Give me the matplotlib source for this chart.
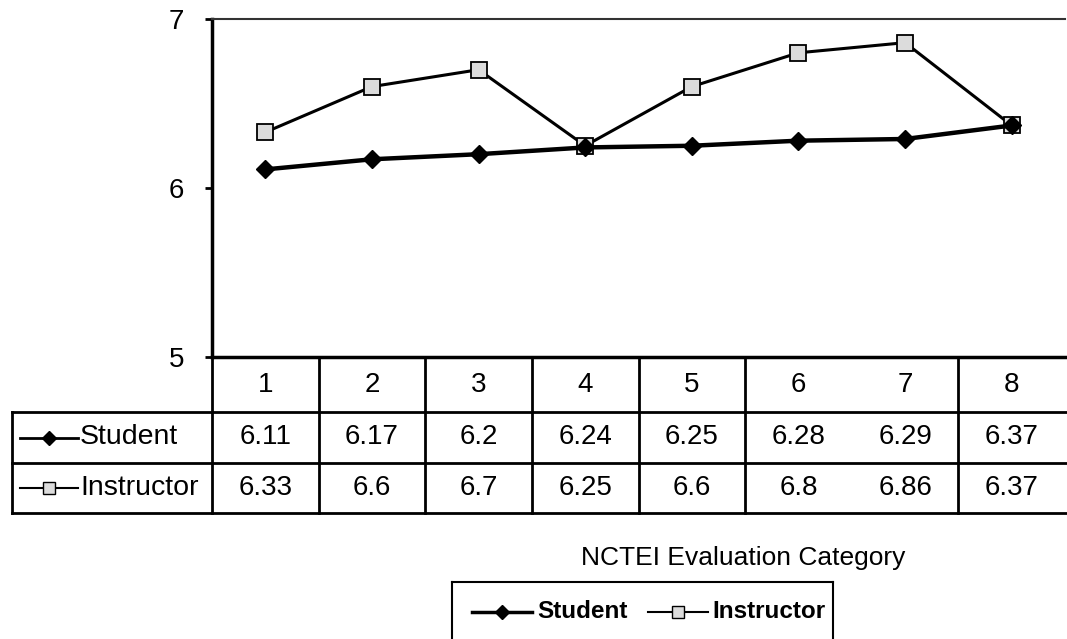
import matplotlib
matplotlib.use("Agg")
import matplotlib.pyplot as plt
from matplotlib.lines import Line2D

categories = ["1", "2", "3", "4", "5", "6", "7", "8"]
student = [6.11, 6.17, 6.2, 6.24, 6.25, 6.28, 6.29, 6.37]
instructor = [6.33, 6.6, 6.7, 6.25, 6.6, 6.8, 6.86, 6.37]
student_txt = ["6.11", "6.17", "6.2", "6.24", "6.25", "6.28", "6.29", "6.37"]
instructor_txt = ["6.33", "6.6", "6.7", "6.25", "6.6", "6.8", "6.86", "6.37"]
yticks = [5, 6, 7]

W, H = 1067, 639
plt.rcParams['font.family'] = ['Liberation Sans', 'DejaVu Sans']
fig = plt.figure(figsize=(W / 100, H / 100), dpi=100)

# pixel helpers (origin top-left)
def fx(x):
    return x / W

def fy(y):
    return 1 - y / H

def hline(x0, x1, y, lw=2):
    fig.add_artist(Line2D([fx(x0), fx(x1)], [fy(y), fy(y)], color='black', lw=lw,
                          transform=fig.transFigure))

def vline(x, y0, y1, lw=2):
    fig.add_artist(Line2D([fx(x), fx(x)], [fy(y0), fy(y1)], color='black', lw=lw,
                          transform=fig.transFigure))

def key(x0, x1, y, marker, lw, ms):
    fig.add_artist(Line2D([fx(x0), fx(x1)], [fy(y)] * 2, color='black', lw=lw,
                          transform=fig.transFigure))
    face = 'black' if marker == 'D' else '#dcdcdc'
    fig.add_artist(Line2D([fx((x0 + x1) / 2)], [fy(y)], marker=marker, markersize=ms,
                          markerfacecolor=face, markeredgecolor='black',
                          transform=fig.transFigure))

left, right, top, bottom = 212, 1065, 19, 357
ax = fig.add_axes([fx(left), fy(bottom), fx(right) - fx(left), fy(top) - fy(bottom)])
x = list(range(1, len(categories) + 1))

ax.plot(x, instructor, color='black', lw=2.2, marker='s', markersize=11,
        markerfacecolor='#dcdcdc', markeredgecolor='black', markeredgewidth=1.3, zorder=3)
ax.plot(x, student, color='black', lw=3.2, marker='D', markersize=9,
        markerfacecolor='black', markeredgecolor='black', zorder=4)

ax.set_xlim(0.5, len(categories) + 0.5)
ax.set_ylim(5, 7)
ax.set_yticks(yticks)
ax.set_yticklabels([str(v) for v in yticks], fontsize=20)
ax.set_xticks([])
ax.tick_params(axis='y', length=5, width=2, pad=15)
ax.spines['right'].set_visible(False)
ax.spines['left'].set_linewidth(2.5)
ax.spines['bottom'].set_linewidth(2.5)
ax.spines['top'].set_linewidth(1.5)
ax.spines['top'].set_color('#333333')

# data table below the plot
col_w = (right - left) / len(categories)
r0, r1, r2, r3 = 357, 412, 463, 513
hline(left, W, r1)
hline(12, W, r2)
hline(12, W, r3)
hline(12, left, r1)
vline(12, r1, r3)
for k in range(len(categories)):
    if k == 6:
        continue  # faded divider in the original scan
    vline(left + k * col_w, r0, r3)

rows = [(r0 + r1) / 2, (r1 + r2) / 2, (r2 + r3) / 2]
for k, c in enumerate(categories):
    cx = left + (k + 0.5) * col_w
    fig.text(fx(cx), fy(rows[0]), c, ha='center', va='center', fontsize=20)
    fig.text(fx(cx), fy(rows[1]), student_txt[k], ha='center', va='center', fontsize=20)
    fig.text(fx(cx), fy(rows[2]), instructor_txt[k], ha='center', va='center', fontsize=20)

# series keys in the table
key(20, 78, rows[1], 'D', 2, 7)
fig.text(fx(80), fy(rows[1]), "Student", ha='left', va='center', fontsize=20.5)
key(20, 78, rows[2], 's', 1.5, 9)
fig.text(fx(80), fy(rows[2]), "Instructor", ha='left', va='center', fontsize=20.5)

fig.text(fx(743), fy(565), "NCTEI Evaluation Category", ha='center', va='baseline', fontsize=19)

# legend box
hline(452, 833, 582, lw=1.5)
vline(452, 582, H, lw=1.5)
vline(833, 582, H, lw=1.5)
ly = 612
key(472, 532, ly, 'D', 2.5, 7)
fig.text(fx(537), fy(ly), "Student", ha='left', va='center', fontsize=17.5, fontweight='bold')
key(648, 708, ly, 's', 1.5, 9)
fig.text(fx(712), fy(ly), "Instructor", ha='left', va='center', fontsize=17.5, fontweight='bold')

fig.savefig("out.png", dpi=100)
